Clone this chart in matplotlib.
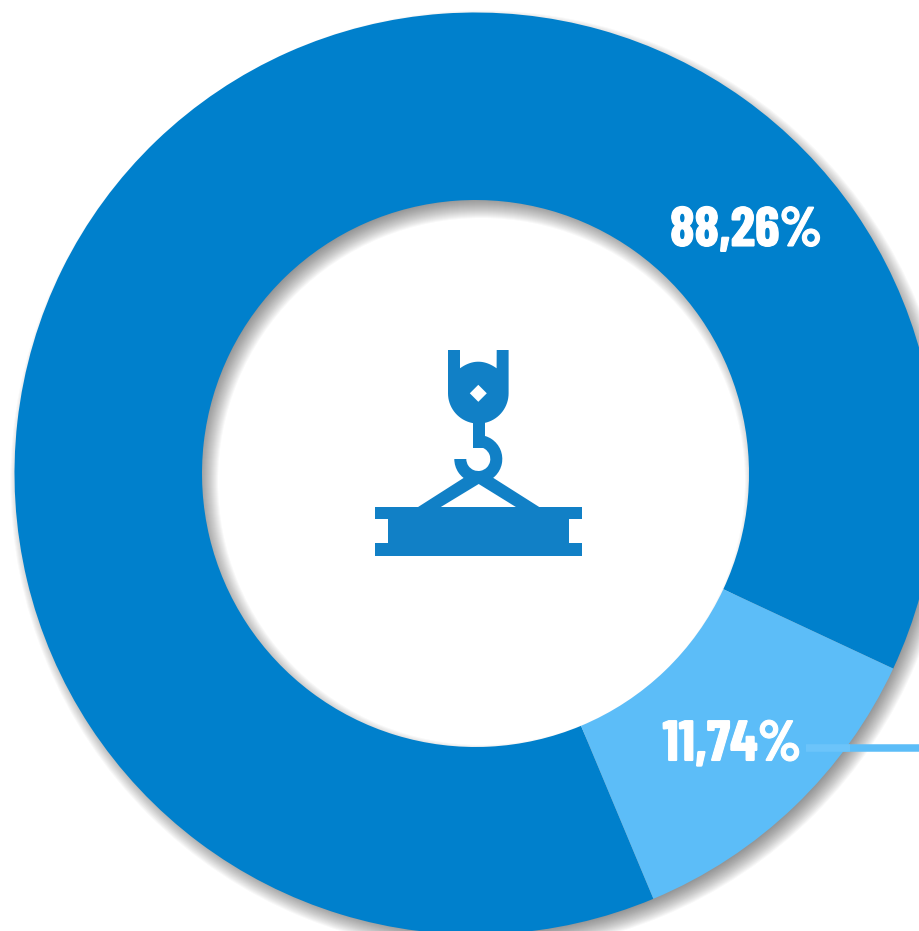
import numpy as np
import matplotlib
matplotlib.use('Agg')
import matplotlib.pyplot as plt
from matplotlib.patches import Wedge, Polygon, Rectangle
import matplotlib.patheffects as pe

# values from the picture
shares = [88.26, 11.74]
labels = ['88,26%', '11,74%']
colors = ['#0080CC', '#5CBDF8']
icon_color = '#1180C6'

cx, cy = 475.5, 473.5
r_out, r_in = 461, 273.5

plt.rcParams['font.family'] = ['Barlow Condensed', 'Oswald', 'Liberation Sans', 'DejaVu Sans']

fig = plt.figure(figsize=(9.2, 9.31), dpi=100)
ax = fig.add_axes([0, 0, 1, 1])

# soft shadow below the ring, pushed to the lower right
for k in range(20):
    s = k * 1.0 - 9
    ring = Wedge((cx + 6, cy + 8), r_out + s, 0, 360, width=r_out - r_in + 2 * s,
                 facecolor='#303030', edgecolor='none', alpha=0.032, zorder=1)
    ax.add_patch(ring)

# y axis is inverted, so the angle runs clockwise on screen
ax.pie(shares, colors=colors, startangle=67.3, center=(cx, cy), radius=r_out,
       wedgeprops=dict(width=r_out - r_in, linewidth=0, zorder=2), frame=True)

ax.set_xlim(0, 920)
ax.set_ylim(931, 0)
ax.set_aspect('auto')
ax.axis('off')

# leader line of the small slice
ax.plot([806, 920], [748, 748], color=colors[1], lw=5.4, solid_capstyle='butt', zorder=1.5)
ax.plot([806, 850], [748, 748], color='#6CC4FA', lw=5.4, solid_capstyle='butt', zorder=3)

stroke = [pe.withStroke(linewidth=0.8, foreground='white')]
ax.text(746, 231.5, labels[0], color='white', fontsize=40, fontweight='bold',
        ha='center', va='center', path_effects=stroke, zorder=5)
ax.text(732, 745.5, labels[1], color='white', fontsize=41, fontweight='bold',
        ha='center', va='center', path_effects=stroke, zorder=5)

# crane hook icon
hx, hy = 478.3, 393.3
t = np.linspace(0, np.pi, 40)
head_bottom = np.column_stack([hx + 30.3 * np.cos(t), hy + 30.3 * np.sin(t)])
u = np.linspace(-1, 1, 20)
notch = np.column_stack([hx + 18.3 * u, 361.7 + 6.6 * u ** 2])
head = np.vstack([[[448, 350], [460, 350]], notch, [[496.7, 350], [508.6, 350]],
                  head_bottom, [[448, 350]]])
ax.add_patch(Polygon(head, closed=True, fc=icon_color, ec='none', zorder=6))
ax.add_patch(Polygon([[hx, hy - 8.5], [hx + 8.5, hy], [hx, hy + 8.5], [hx - 8.5, hy]],
                     closed=True, fc='white', ec='none', zorder=7))
ax.add_patch(Rectangle((472.7, 420), 12, 27.5, fc=icon_color, ec='none', zorder=6))
ax.add_patch(Wedge((478.3, 459), 24, -90, 180, width=12, fc=icon_color, ec='none', zorder=6))
slings = [[417.3, 507.5], [464, 477.7], [478, 472], [493, 477.7], [540, 507.5],
          [516.7, 507.5], [478.7, 484], [440, 507.5]]
ax.add_patch(Polygon(slings, closed=True, fc=icon_color, ec='none', zorder=6))
beam = [[375.3, 507.3], [581.7, 507.3], [581.7, 519.3], [569.3, 519.3], [569.3, 543.3],
        [581.7, 543.3], [581.7, 556], [375.3, 556], [375.3, 543.3], [387.7, 543.3],
        [387.7, 519.3], [375.3, 519.3]]
ax.add_patch(Polygon(beam, closed=True, fc=icon_color, ec='none', zorder=6))

fig.savefig('out.png', dpi=100, facecolor='white')
